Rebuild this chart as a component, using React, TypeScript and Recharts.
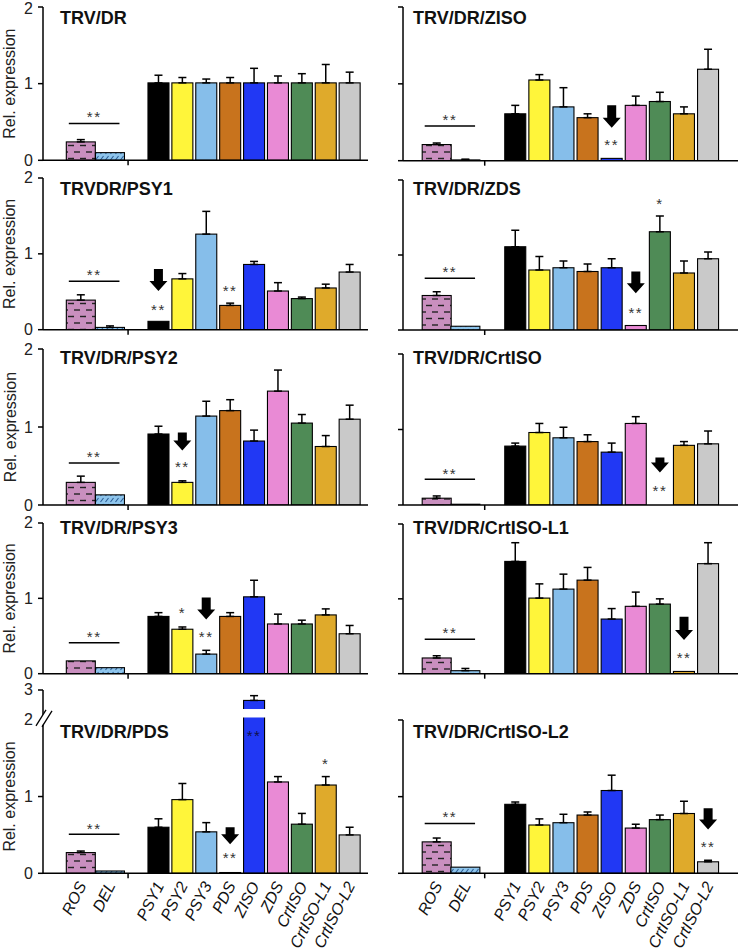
import React from 'react';
import { ComposedChart, Bar, XAxis, YAxis, ErrorBar, ReferenceLine, ReferenceDot } from 'recharts';

const controls = ['ROS', 'DEL'];
const genes = ['PSY1', 'PSY2', 'PSY3', 'PDS', 'ZISO', 'ZDS', 'CrtISO', 'CrtISO-L1', 'CrtISO-L2'];
const categories = [...controls, ...genes];

// relative expression, order: ROS, DEL, PSY1 ... CrtISO-L2
const drValues = [0.24, 0.1, 1.01, 1.01, 1.01, 1.01, 1.01, 1.01, 1.01, 1.01, 1.01];
const drErrors = [0.03, 0, 0.1, 0.07, 0.05, 0.07, 0.19, 0.09, 0.12, 0.24, 0.14];
const zisoValues = [0.21, 0.01, 0.61, 1.05, 0.7, 0.56, 0.03, 0.72, 0.77, 0.61, 1.19];
const zisoErrors = [0.02, 0.01, 0.11, 0.07, 0.25, 0.05, 0, 0.12, 0.12, 0.09, 0.26];
const psy1Values = [0.39, 0.03, 0.11, 0.67, 1.26, 0.32, 0.86, 0.51, 0.41, 0.55, 0.76];
const psy1Errors = [0.07, 0.02, 0, 0.07, 0.3, 0.03, 0.04, 0.11, 0.02, 0.05, 0.1];
const zdsValues = [0.46, 0.05, 1.11, 0.8, 0.83, 0.78, 0.83, 0.06, 1.31, 0.76, 0.95];
const zdsErrors = [0.05, 0, 0.22, 0.18, 0.09, 0.1, 0.12, 0, 0.21, 0.16, 0.09];
const psy2Values = [0.29, 0.13, 0.91, 0.29, 1.14, 1.21, 0.82, 1.46, 1.05, 0.75, 1.1];
const psy2Errors = [0.08, 0, 0.1, 0.02, 0.19, 0.14, 0.14, 0.27, 0.11, 0.14, 0.18];
const crtisoValues = [0.09, 0.01, 0.78, 0.96, 0.89, 0.84, 0.7, 1.08, 0, 0.79, 0.81];
const crtisoErrors = [0.03, 0, 0.04, 0.12, 0.14, 0.09, 0.12, 0.09, 0, 0.05, 0.17];
const psy3Values = [0.17, 0.08, 0.76, 0.59, 0.26, 0.76, 1.02, 0.66, 0.66, 0.78, 0.53];
const psy3Errors = [0, 0, 0.05, 0.03, 0.05, 0.05, 0.22, 0.13, 0.05, 0.08, 0.11];
const l1Values = [0.21, 0.04, 1.5, 1.01, 1.13, 1.25, 0.73, 0.9, 0.93, 0.03, 1.47];
const l1Errors = [0.03, 0.03, 0.25, 0.19, 0.2, 0.17, 0.14, 0.19, 0.07, 0, 0.28];
const pdsValues = [0.27, 0.03, 0.6, 0.96, 0.54, 0.01, 2.65, 1.19, 0.64, 1.15, 0.5];
const pdsErrors = [0.02, 0, 0.11, 0.21, 0.12, 0, 0.16, 0.07, 0.14, 0.11, 0.1];
const l2Values = [0.41, 0.08, 0.9, 0.63, 0.66, 0.76, 1.08, 0.59, 0.7, 0.78, 0.15];
const l2Errors = [0.05, 0, 0.03, 0.08, 0.11, 0.04, 0.2, 0.05, 0.06, 0.16, 0.02];

// ROS vs DEL bracket: [line level, star level]
const drSig = [0.48, 0.61];
const zisoSig = [0.45, 0.58];
const psy1Sig = [0.64, 0.77];
const zdsSig = [0.69, 0.82];
const psy2Sig = [0.54, 0.66];
const crtisoSig = [0.34, 0.46];
const psy3Sig = [0.41, 0.54];
const l1Sig = [0.46, 0.59];
const pdsSig = [0.51, 0.62];
const l2Sig = [0.65, 0.78];

// silenced gene arrow: [gene, arrow top, arrow tip, star level]
const zisoArrow = ['ZISO', 0.72, 0.43, 0.25];
const psy1Arrow = ['PSY1', 0.8, 0.51, 0.31];
const zdsArrow = ['ZDS', 0.78, 0.49, 0.28];
const psy2Arrow = ['PSY2', 0.93, 0.7, 0.53];
const crtisoArrow = ['CrtISO', 0.63, 0.43, 0.23];
const psy3Arrow = ['PSY3', 1.01, 0.72, 0.54];
const l1Arrow = ['CrtISO-L1', 0.76, 0.45, 0.25];
const pdsArrow = ['PDS', 0.6, 0.38, 0.24];
const l2Arrow = ['CrtISO-L2', 0.85, 0.57, 0.39];

// other significance marks: [gene, level, text]
const psy1Stars = [['PDS', 0.55, '**']];
const zdsStars = [['CrtISO', 1.73, '*']];
const psy3Stars = [['PSY2', 0.85, '*']];
const pdsStars = [['ZISO', 1.83, '**'], ['CrtISO-L1', 1.47, '*']];

const barFills = ['url(#ros-dash)', 'url(#del-hatch)', '#000000', '#FFF53A', '#86BEEA', '#C8731D', '#2138F4', '#E98AD5', '#4F8B56', '#DFAA2B', '#C9C9C9'];

const genePositions = (start: number) => genes.map((_, i) => start + i);
const columns = [
  { left: 0, yw: 43, right: 2, xMax: 13.6, junction: 3.56, pos: [1.58, 2.8, ...genePositions(4.83)], titleX: 60, labels: true },
  { left: 370, yw: 33, right: 2, xMax: 13.9, junction: 3.39, pos: [1.4, 2.59, ...genePositions(4.66)], titleX: 413, labels: false },
];
const rowFrames = [
  { l: [6.7, 160], r: [7.3, 161], titleY: 18 },
  { l: [178.3, 330], r: [180, 330], titleY: 189 },
  { l: [348.5, 504.5], r: [354, 505], titleY: 358 },
  { l: [523.3, 674], r: [524.3, 674], titleY: 528 },
  { l: [690, 873.3], r: [720, 873.3], titleY: 732 },
];
const BREAK_K = 0.388;

const panels = [
  { title: 'TRV/DR', col: 0, row: 0, values: drValues, errors: drErrors, sig: drSig, arrow: null, stars: [] },
  { title: 'TRV/DR/ZISO', col: 1, row: 0, values: zisoValues, errors: zisoErrors, sig: zisoSig, arrow: zisoArrow, stars: [] },
  { title: 'TRVDR/PSY1', col: 0, row: 1, values: psy1Values, errors: psy1Errors, sig: psy1Sig, arrow: psy1Arrow, stars: psy1Stars },
  { title: 'TRV/DR/ZDS', col: 1, row: 1, values: zdsValues, errors: zdsErrors, sig: zdsSig, arrow: zdsArrow, stars: zdsStars },
  { title: 'TRV/DR/PSY2', col: 0, row: 2, values: psy2Values, errors: psy2Errors, sig: psy2Sig, arrow: psy2Arrow, stars: [] },
  { title: 'TRV/DR/CrtISO', col: 1, row: 2, values: crtisoValues, errors: crtisoErrors, sig: crtisoSig, arrow: crtisoArrow, stars: [] },
  { title: 'TRV/DR/PSY3', col: 0, row: 3, values: psy3Values, errors: psy3Errors, sig: psy3Sig, arrow: psy3Arrow, stars: psy3Stars },
  { title: 'TRV/DR/CrtISO-L1', col: 1, row: 3, values: l1Values, errors: l1Errors, sig: l1Sig, arrow: l1Arrow, stars: [] },
  { title: 'TRV/DR/PDS', col: 0, row: 4, values: pdsValues, errors: pdsErrors, sig: pdsSig, arrow: pdsArrow, stars: pdsStars, broken: true },
  { title: 'TRV/DR/CrtISO-L2', col: 1, row: 4, values: l2Values, errors: l2Errors, sig: l2Sig, arrow: l2Arrow, stars: [] },
];

const font = '"Liberation Sans", Arial, Helvetica, sans-serif';

function Stars({ cx, cy, text, fill }: any) {
  return (
    <text x={cx} y={cy} dy={8.5} textAnchor="middle" fontSize={15} letterSpacing={1.5} fill={fill || '#333'}>
      {text}
    </text>
  );
}

function ArrowShape(props: any) {
  const { x1, y1, y2 } = props;
  if (x1 == null) return null;
  const top = Math.min(y1, y2);
  const tip = Math.max(y1, y2);
  const head = Math.min(10, (tip - top) * 0.7);
  const sw = 4.5;
  const hw = 9;
  const pts = [
    [x1 - sw, top], [x1 + sw, top], [x1 + sw, tip - head], [x1 + hw, tip - head],
    [x1, tip], [x1 - hw, tip - head], [x1 - sw, tip - head],
  ];
  return <polygon points={pts.map((q) => q.join(',')).join(' ')} fill="#000" />;
}

function YTitle({ cy }: any) {
  const cx = 10;
  return (
    <text x={cx} y={cy} transform={`rotate(-90 ${cx} ${cy})`} textAnchor="middle" dominantBaseline="central" fontSize={16} fill="#222">
      Rel. expression
    </text>
  );
}

function Panel({ p }: any) {
  const col = columns[p.col];
  const frame = rowFrames[p.row];
  const [plotTop, plotBottom] = p.col === 0 ? frame.l : frame.r;
  const broken = !!p.broken;
  const toDisp = (v: number) => (broken && v > 2 ? 2 + (v - 2) * BREAK_K : v);
  const yMax = broken ? toDisp(3) : 2;
  const mt = 14;
  const bottomRow = p.row === 4;
  const xh = bottomRow ? 80 : 8;
  const plotH = plotBottom - plotTop;
  const height = mt + plotH + xh;
  const width = 370;

  const data = categories.map((name, i) => {
    const v = p.values[i];
    const e = p.errors[i];
    return { name, idx: i, pos: col.pos[i], disp: toDisp(v), err: e > 0 ? [0, toDisp(v + e) - toDisp(v)] : null };
  });
  const posOf = (name: string) => col.pos[categories.indexOf(name)];

  const yTicks = broken ? [0, 1, 2, yMax] : [0, 1, 2];
  const xTicks = bottomRow ? [col.junction, ...col.pos] : [col.junction];
  // keep the top label of the first row inside the page
  const topShift = p.row === 0 ? 2 : 0;

  const renderYTick = (t: any) => {
    const { x, y, payload } = t;
    const v = payload.value;
    const isBreak = broken && Math.abs(v - 2) < 1e-6;
    const isTop = Math.abs(v - yMax) < 1e-6;
    const label = v > 2.1 ? '3' : String(v);
    return (
      <g>
        {!isBreak && <line x1={x - 5} y1={y} x2={x} y2={y} stroke="#000" strokeWidth={1.5} />}
        {isBreak && (
          <g>
            <polygon points={`${x - 6},${y + 5} ${x + 2},${y - 9} ${x + 8},${y - 9} ${x},${y + 5}`} fill="#fff" />
            <line x1={x - 7} y1={y + 6} x2={x + 3} y2={y - 10} stroke="#000" strokeWidth={1.3} />
            <line x1={x - 1} y1={y + 7} x2={x + 9} y2={y - 9} stroke="#000" strokeWidth={1.3} />
          </g>
        )}
        {col.labels && (
          <text x={x - 10} y={y} dy={5.5 + (isTop ? topShift : 0)} textAnchor="end" fontSize={16} fill="#222">
            {label}
          </text>
        )}
      </g>
    );
  };

  const renderXTick = (t: any) => {
    const { x, y, payload } = t;
    const v = payload.value;
    if (Math.abs(v - col.junction) < 1e-6) {
      return <line x1={x} y1={y} x2={x} y2={y + 5} stroke="#000" strokeWidth={1.5} />;
    }
    const idx = col.pos.findIndex((q) => Math.abs(q - v) < 1e-6);
    if (idx < 0) return <g />;
    const ax = x + 6;
    const ay = y + 12;
    return (
      <text x={ax} y={ay} transform={`rotate(-63 ${ax} ${ay})`} textAnchor="end" fontSize={16} fontStyle="italic" fill="#111">
        {categories[idx]}
      </text>
    );
  };

  const renderBar = (b: any) => {
    const { x, y, width: bw, height: bh } = b;
    const payload = b.payload || b;
    const i = payload.idx ?? b.index;
    if (!(payload.disp > 0)) return <g />;
    const w = i < 2 ? 29 : 21;
    const left = x + bw / 2 - w / 2;
    const ppu = bh / payload.disp;
    const base = y + bh;
    return (
      <g>
        <rect x={left} y={y} width={w} height={bh} fill={barFills[i]} stroke="#000" strokeWidth={1.1} />
        {broken && payload.disp > 2.1 && (
          <rect x={left - 1.5} y={base - 2.14 * ppu} width={w + 3} height={0.11 * ppu} fill="#fff" />
        )}
      </g>
    );
  };

  const [sigLine, sigStar] = p.sig;
  const sx0 = col.pos[0] - 0.5;
  const sx1 = col.pos[1] + 0.4;

  return (
    <div style={{ position: 'absolute', left: col.left, top: plotTop - mt }}>
      <ComposedChart width={width} height={height} data={data} margin={{ top: mt, right: col.right, left: 0, bottom: 0 }}>
        <XAxis
          type="number"
          dataKey="pos"
          domain={[0, col.xMax]}
          ticks={xTicks}
          interval={0}
          tickSize={0}
          tickMargin={0}
          tickLine={false}
          height={xh}
          axisLine={{ stroke: '#000', strokeWidth: 1.5 }}
          tick={renderXTick}
          allowDataOverflow
        />
        <YAxis
          type="number"
          domain={[0, yMax]}
          ticks={yTicks}
          interval={0}
          width={col.yw}
          tickSize={0}
          tickMargin={0}
          tickLine={false}
          axisLine={{ stroke: '#000', strokeWidth: 1.5 }}
          tick={renderYTick}
          allowDataOverflow
          label={col.labels ? <YTitle cy={mt + plotH * (1 - 1 / yMax)} /> : undefined}
        />
        <Bar dataKey="disp" barSize={20} isAnimationActive={false} shape={renderBar}>
          <ErrorBar dataKey="err" width={4} stroke="#000" strokeWidth={1.5} direction="y" />
        </Bar>
        <ReferenceLine
          segment={[{ x: sx0, y: sigLine }, { x: sx1, y: sigLine }]}
          stroke="#000"
          strokeWidth={1.5}
        />
        <ReferenceDot x={(sx0 + sx1) / 2} y={sigStar} r={0} shape={(d: any) => <Stars cx={d.cx} cy={d.cy} text="**" />} />
        {p.arrow && (
          <ReferenceLine
            segment={[{ x: posOf(p.arrow[0]), y: p.arrow[1] }, { x: posOf(p.arrow[0]), y: p.arrow[2] }]}
            shape={ArrowShape}
          />
        )}
        {p.arrow && (
          <ReferenceDot x={posOf(p.arrow[0])} y={p.arrow[3]} r={0} shape={(d: any) => <Stars cx={d.cx} cy={d.cy} text="**" />} />
        )}
        {p.stars.map((s: any, k: number) => (
          <ReferenceDot
            key={k}
            x={posOf(s[0])}
            y={s[1]}
            r={0}
            shape={(d: any) => <Stars cx={d.cx} cy={d.cy} text={s[2]} fill={s[1] > 1.7 && broken ? '#10104a' : '#333'} />}
          />
        ))}
      </ComposedChart>
    </div>
  );
}

export default function App() {
  return (
    <div style={{ position: 'absolute', left: 0, top: 0, width: 740, height: 952, background: '#fff', fontFamily: font, overflow: 'hidden' }}>
      <svg width={0} height={0} style={{ position: 'absolute' }}>
        <defs>
          <pattern id="ros-dash" patternUnits="userSpaceOnUse" width={12} height={13}>
            <rect width={12} height={13} fill="#C98FBF" />
            <line x1={2} y1={3} x2={8} y2={3} stroke="#222" strokeWidth={1.4} />
            <line x1={8} y1={9.5} x2={14} y2={9.5} stroke="#222" strokeWidth={1.4} />
            <line x1={-4} y1={9.5} x2={2} y2={9.5} stroke="#222" strokeWidth={1.4} />
          </pattern>
          <pattern id="del-hatch" patternUnits="userSpaceOnUse" width={5} height={6}>
            <rect width={5} height={6} fill="#8EC5EC" />
            <line x1={0.5} y1={5} x2={3.5} y2={1} stroke="#2D5E96" strokeWidth={1.1} />
          </pattern>
        </defs>
      </svg>
      {panels.map((p, k) => (
        <Panel key={k} p={p} />
      ))}
      {panels.map((p, k) => (
        <div
          key={'t' + k}
          style={{
            position: 'absolute',
            left: columns[p.col].titleX,
            top: rowFrames[p.row].titleY - 11,
            fontSize: 18,
            lineHeight: '22px',
            fontWeight: 'bold',
            color: '#111',
            whiteSpace: 'nowrap',
          }}
        >
          {p.title}
        </div>
      ))}
    </div>
  );
}
